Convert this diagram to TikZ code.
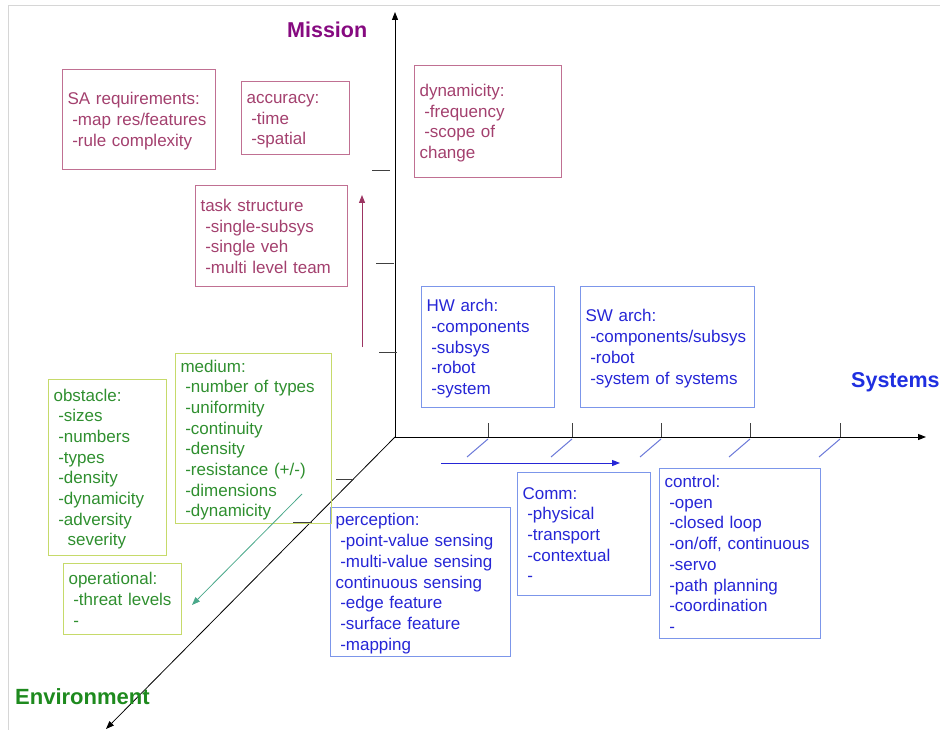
\documentclass[tikz,border=0pt]{standalone}
\usepackage{fontspec}
\setmainfont{Liberation Sans}
\usepackage{xcolor}
\usetikzlibrary{positioning, arrows.meta}
\definecolor{missionlabel}{HTML}{860A80}
\definecolor{missiontext}{HTML}{A3406E}
\definecolor{missionborder}{HTML}{C07092}
\definecolor{missionarrow}{HTML}{9C3462}
\definecolor{syslabel}{HTML}{1F2FE0}
\definecolor{systext}{HTML}{2626D6}
\definecolor{sysborder}{HTML}{7C96EA}
\definecolor{sysslash}{HTML}{6A78D8}
\definecolor{envlabel}{HTML}{1E8A1E}
\definecolor{envtext}{HTML}{2F8F2F}
\definecolor{envborder}{HTML}{C6DA6A}
\definecolor{envarrow}{HTML}{4AA88A}
\definecolor{framegray}{HTML}{D6D6D6}
\newcommand{\lstrut}{\rule[-2.6pt]{0pt}{18.1pt}}
\newcommand{\ind}{\hspace*{4.7pt}}

\begin{document}
\begin{tikzpicture}[x=1pt, y=-1pt,
    box/.style={draw, line width=1.1pt, anchor=north west, inner xsep=5pt,
      inner ysep=0pt, align=left, font=\fontsize{17}{20.7}\selectfont,
      execute at begin node=\lstrut, execute at end node=\lstrut},
    missionbox/.style={box, draw=missionborder, text=missiontext},
    sysbox/.style={box, draw=sysborder, text=systext},
    envbox/.style={box, draw=envborder, text=envtext},
    axislabel/.style={anchor=base west, inner sep=0pt,
      font=\fontsize{21.5}{25}\selectfont\bfseries},
    axis/.style={line width=1pt, -{Triangle[length=8pt, width=6pt]}},
    tick/.style={line width=1pt, black!75},
    slash/.style={line width=1pt, sysslash}]
  \useasboundingbox (0,0) rectangle (940,730);
  \draw[framegray, line width=1.5pt] (8.5,730) -- (8.5,5.5) -- (940,5.5);

  % axes
  \coordinate (O) at (395,437);
  \coordinate (mtop) at (395,12);
  \coordinate (sright) at (926,437);
  \coordinate (eend) at (106,729);
  \draw[axis] (O) -- (mtop);
  \draw[axis] (O) -- (sright);
  \draw[axis, line width=0.8pt] (O) -- (eend);

  \node[axislabel, text=missionlabel] (mission) at (287,38) {Mission};
  \node[axislabel, text=syslabel] (systems) at (851,387) {Systems};
  \node[axislabel, text=envlabel, font=\fontsize{22}{25}\selectfont\bfseries]
    (environment) at (15,704) {Environment};

  % ticks
  \foreach \ty/\xa/\xb in {171/372/390, 264/376/394, 352/379/397}
    \draw[tick] (\xa,\ty) -- (\xb,\ty);
  \foreach \ty/\xa/\xb in {479/336/354, 522/293/312}
    \draw[tick] (\xa,\ty) -- (\xb,\ty);
  \foreach \tx in {488,572,661,750,840} {
    \draw[tick] (\tx,423) -- (\tx,437);
    \draw[slash] (\tx,439) -- ++(-21,18);
  }

  % mission
  \node[missionbox, text width=143pt, minimum height=100pt] (sareq) at (62,69)
    {SA requirements:\\\ind -map res/features\\\ind -rule complexity};
  \node[missionbox, text width=98pt, minimum height=73pt] (accuracy) at (241,81)
    {accuracy:\\\ind -time\\\ind -spatial};
  \node[missionbox, text width=142pt, minimum height=101pt] (task) at (195,185)
    {task structure\\\ind -single-subsys\\\ind -single veh\\\ind -multi level team};
  \node[missionbox, text width=137pt, minimum height=112pt] (dynam) at (414,65)
    {dynamicity:\\\ind -frequency\\\ind -scope of\\change};
  \coordinate (ma1) at (362,347);
  \coordinate (ma2) at (362,195);
  \draw[missionarrow, line width=1pt, -{Triangle[length=8pt, width=6pt]}] (ma1) -- (ma2);

  % systems
  \node[sysbox, text width=123pt, minimum height=121pt] (hwarch) at (421,286)
    {HW arch:\\\ind -components\\\ind -subsys\\\ind -robot\\\ind -system};
  \node[sysbox, text width=164pt, minimum height=121pt] (swarch) at (580,286)
    {SW arch:\\\ind -components/subsys\\\ind -robot\\\ind -system of systems};
  \node[sysbox, text width=170pt, minimum height=149pt] (percep) at (330,507)
    {perception:\\\ind -point-value sensing\\\ind -multi-value sensing\\continuous sensing\\\ind -edge feature\\\ind -surface feature\\\ind -mapping};
  \node[sysbox, text width=123pt, minimum height=123pt] (comm) at (517,472)
    {Comm:\\\ind -physical\\\ind -transport\\\ind -contextual\\\ind -};
  \node[sysbox, text width=151pt, minimum height=170pt] (control) at (659,468)
    {control:\\\ind -open\\\ind -closed loop\\\ind -on/off, continuous\\\ind -servo\\\ind -path planning\\\ind -coordination\\\ind -};
  \coordinate (ba1) at (441,463);
  \coordinate (ba2) at (620,463);
  \draw[systext, line width=1pt, -{Triangle[length=8pt, width=6pt]}] (ba1) -- (ba2);

  % environment
  \node[envbox, text width=146pt, minimum height=170pt] (medium) at (175,353)
    {medium:\\\ind -number of types\\\ind -uniformity\\\ind -continuity\\\ind -density\\\ind -resistance (+/-)\\\ind -dimensions\\\ind -dynamicity};
  \node[envbox, text width=108pt, minimum height=176pt] (obstacle) at (48,379)
    {obstacle:\\\ind -sizes\\\ind -numbers\\\ind -types\\\ind -density\\\ind -dynamicity\\\ind -adversity\\\hspace*{14pt}severity};
  \node[envbox, text width=108pt, minimum height=71pt] (operational) at (63,563)
    {operational:\\\ind -threat levels\\\ind -};
  \coordinate (ga1) at (302,494);
  \coordinate (ga2) at (192,605);
  \draw[envarrow, line width=0.8pt, -{Triangle[length=8pt, width=6pt]}] (ga1) -- (ga2);
\end{tikzpicture}
\end{document}
